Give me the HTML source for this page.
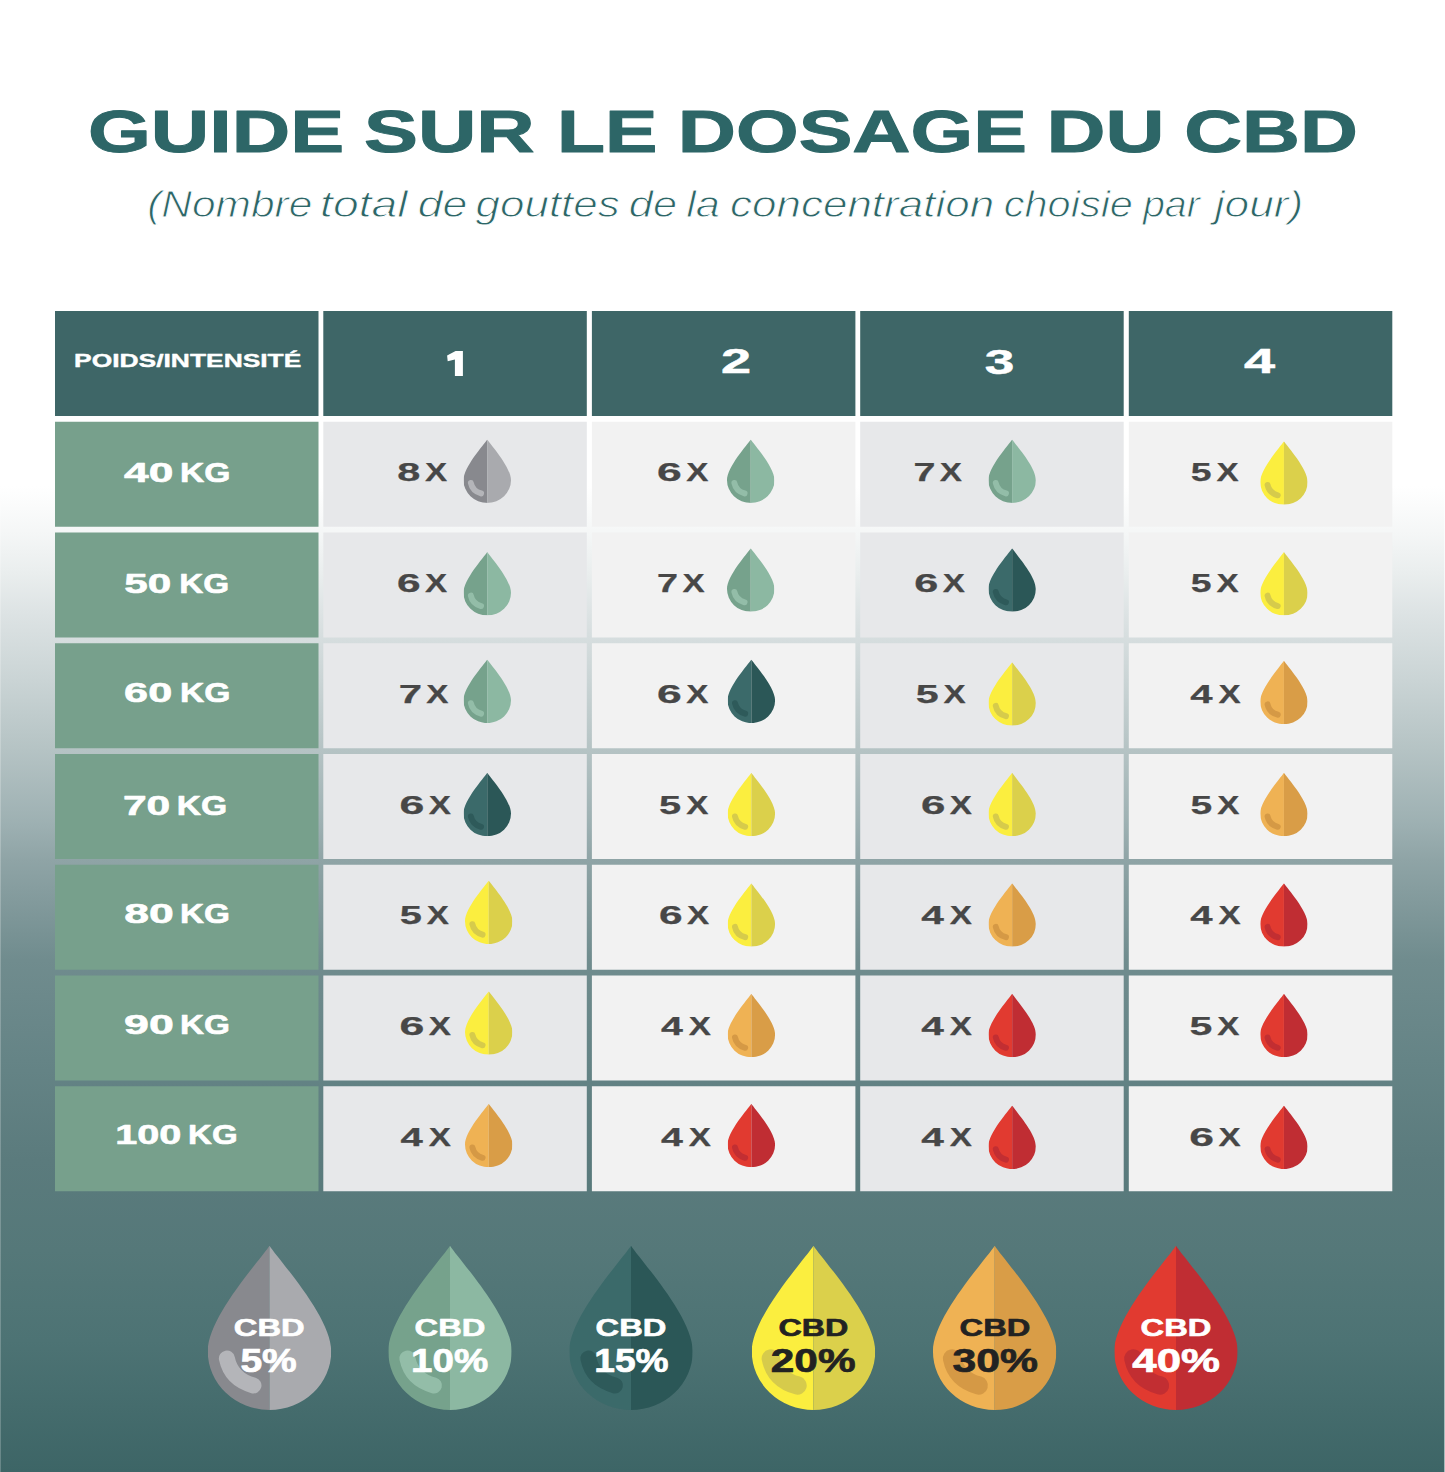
<!DOCTYPE html><html><head><meta charset="utf-8"><title>Guide sur le dosage du CBD</title><style>html,body{margin:0;padding:0;width:1445px;height:1472px;overflow:hidden;background:#fff}text{font-family:"Liberation Sans",sans-serif}</style></head><body><svg width="1445" height="1472" viewBox="0 0 1445 1472" style="display:block;font-family:'Liberation Sans',sans-serif"><defs><linearGradient id="bg" x1="0" y1="0" x2="0" y2="1"><stop offset="0.0000" stop-color="#ffffff"/><stop offset="0.3302" stop-color="#ffffff"/><stop offset="0.3607" stop-color="#f5f7f7"/><stop offset="0.3886" stop-color="#eaeeee"/><stop offset="0.4164" stop-color="#dde3e4"/><stop offset="0.4620" stop-color="#cad4d5"/><stop offset="0.5095" stop-color="#b5c3c4"/><stop offset="0.5598" stop-color="#9db0b2"/><stop offset="0.5842" stop-color="#8fa4a6"/><stop offset="0.6522" stop-color="#708c8e"/><stop offset="0.7201" stop-color="#658486"/><stop offset="0.7880" stop-color="#5b7b7d"/><stop offset="0.8492" stop-color="#557879"/><stop offset="0.9103" stop-color="#4d7374"/><stop offset="1.0000" stop-color="#3d6566"/></linearGradient></defs><rect x="0" y="0" width="1445" height="1472" fill="url(#bg)"/><rect x="1444" y="0" width="1" height="1472" fill="#ffffff" fill-opacity="0.55"/><rect x="0" y="0" width="1" height="1472" fill="#ffffff" fill-opacity="0.22"/><text stroke="#2d6667" stroke-width="1.0" stroke-linejoin="round" x="87.90" y="151.60" font-size="59.5" font-weight="bold" font-style="normal" fill="#2d6667" text-anchor="start" textLength="256.21" lengthAdjust="spacingAndGlyphs">GUIDE</text><text stroke="#2d6667" stroke-width="1.0" stroke-linejoin="round" x="364.04" y="151.60" font-size="59.5" font-weight="bold" font-style="normal" fill="#2d6667" text-anchor="start" textLength="170.59" lengthAdjust="spacingAndGlyphs">SUR</text><text stroke="#2d6667" stroke-width="1.0" stroke-linejoin="round" x="556.93" y="151.60" font-size="59.5" font-weight="bold" font-style="normal" fill="#2d6667" text-anchor="start" textLength="100.38" lengthAdjust="spacingAndGlyphs">LE</text><text stroke="#2d6667" stroke-width="1.0" stroke-linejoin="round" x="677.86" y="151.60" font-size="59.5" font-weight="bold" font-style="normal" fill="#2d6667" text-anchor="start" textLength="349.03" lengthAdjust="spacingAndGlyphs">DOSAGE</text><text stroke="#2d6667" stroke-width="1.0" stroke-linejoin="round" x="1046.60" y="151.60" font-size="59.5" font-weight="bold" font-style="normal" fill="#2d6667" text-anchor="start" textLength="117.91" lengthAdjust="spacingAndGlyphs">DU</text><text stroke="#2d6667" stroke-width="1.0" stroke-linejoin="round" x="1184.23" y="151.60" font-size="59.5" font-weight="bold" font-style="normal" fill="#2d6667" text-anchor="start" textLength="173.65" lengthAdjust="spacingAndGlyphs">CBD</text><text stroke="#ffffff" stroke-width="0.9" stroke-linejoin="round" x="147.19" y="217.00" font-size="36.3" font-weight="normal" font-style="italic" fill="#2d6667" text-anchor="start" textLength="165.12" lengthAdjust="spacingAndGlyphs">(Nombre</text><text stroke="#ffffff" stroke-width="0.9" stroke-linejoin="round" x="320.06" y="217.00" font-size="36.3" font-weight="normal" font-style="italic" fill="#2d6667" text-anchor="start" textLength="87.51" lengthAdjust="spacingAndGlyphs">total</text><text stroke="#ffffff" stroke-width="0.9" stroke-linejoin="round" x="417.66" y="217.00" font-size="36.3" font-weight="normal" font-style="italic" fill="#2d6667" text-anchor="start" textLength="49.71" lengthAdjust="spacingAndGlyphs">de</text><text stroke="#ffffff" stroke-width="0.9" stroke-linejoin="round" x="475.49" y="217.00" font-size="36.3" font-weight="normal" font-style="italic" fill="#2d6667" text-anchor="start" textLength="144.34" lengthAdjust="spacingAndGlyphs">gouttes</text><text stroke="#ffffff" stroke-width="0.9" stroke-linejoin="round" x="628.80" y="217.00" font-size="36.3" font-weight="normal" font-style="italic" fill="#2d6667" text-anchor="start" textLength="48.21" lengthAdjust="spacingAndGlyphs">de</text><text stroke="#ffffff" stroke-width="0.9" stroke-linejoin="round" x="686.21" y="217.00" font-size="36.3" font-weight="normal" font-style="italic" fill="#2d6667" text-anchor="start" textLength="33.75" lengthAdjust="spacingAndGlyphs">la</text><text stroke="#ffffff" stroke-width="0.9" stroke-linejoin="round" x="730.03" y="217.00" font-size="36.3" font-weight="normal" font-style="italic" fill="#2d6667" text-anchor="start" textLength="264.10" lengthAdjust="spacingAndGlyphs">concentration</text><text stroke="#ffffff" stroke-width="0.9" stroke-linejoin="round" x="1003.76" y="217.00" font-size="36.3" font-weight="normal" font-style="italic" fill="#2d6667" text-anchor="start" textLength="129.21" lengthAdjust="spacingAndGlyphs">choisie</text><text stroke="#ffffff" stroke-width="0.9" stroke-linejoin="round" x="1142.91" y="217.00" font-size="36.3" font-weight="normal" font-style="italic" fill="#2d6667" text-anchor="start" textLength="57.10" lengthAdjust="spacingAndGlyphs">par</text><text stroke="#ffffff" stroke-width="0.9" stroke-linejoin="round" x="1214.73" y="217.00" font-size="36.3" font-weight="normal" font-style="italic" fill="#2d6667" text-anchor="start" textLength="88.68" lengthAdjust="spacingAndGlyphs">jour)</text><rect x="55.00" y="311.00" width="263.5" height="105" fill="#3e6667"/><rect x="323.30" y="311.00" width="263.5" height="105" fill="#3e6667"/><rect x="591.90" y="311.00" width="263.5" height="105" fill="#3e6667"/><rect x="860.20" y="311.00" width="263.5" height="105" fill="#3e6667"/><rect x="1128.80" y="311.00" width="263.5" height="105" fill="#3e6667"/><text stroke="#ffffff" stroke-width="0.4" stroke-linejoin="round" x="74.10" y="367.40" font-size="18.8" font-weight="bold" font-style="normal" fill="#ffffff" text-anchor="start" textLength="227.24" lengthAdjust="spacingAndGlyphs">POIDS/INTENSITÉ</text><path d="M462.9,351 L462.9,376 L454.9,376 L454.9,359.6 L447.7,361.2 L447.1,355.4 L455.6,351 Z" fill="#ffffff"/><text stroke="#ffffff" stroke-width="0.5" stroke-linejoin="round" x="721.12" y="373.20" font-size="35.7" font-weight="bold" font-style="normal" fill="#ffffff" text-anchor="start" textLength="30.06" lengthAdjust="spacingAndGlyphs">2</text><text stroke="#ffffff" stroke-width="0.5" stroke-linejoin="round" x="984.67" y="374.00" font-size="35.7" font-weight="bold" font-style="normal" fill="#ffffff" text-anchor="start" textLength="29.55" lengthAdjust="spacingAndGlyphs">3</text><text stroke="#ffffff" stroke-width="0.5" stroke-linejoin="round" x="1244.05" y="373.20" font-size="35.7" font-weight="bold" font-style="normal" fill="#ffffff" text-anchor="start" textLength="31.06" lengthAdjust="spacingAndGlyphs">4</text><rect x="55.00" y="421.75" width="263.5" height="105" fill="#77a08c"/><rect x="323.30" y="421.75" width="263.5" height="105" fill="#e7e8ea"/><rect x="591.90" y="421.75" width="263.5" height="105" fill="#f2f2f2"/><rect x="860.20" y="421.75" width="263.5" height="105" fill="#e7e8ea"/><rect x="1128.80" y="421.75" width="263.5" height="105" fill="#f2f2f2"/><text stroke="#ffffff" stroke-width="0.6" stroke-linejoin="round" x="124.08" y="482.20" font-size="27.6" font-weight="bold" font-style="normal" fill="#ffffff" text-anchor="start" textLength="49.26" lengthAdjust="spacingAndGlyphs">40</text><text stroke="#ffffff" stroke-width="0.6" stroke-linejoin="round" x="179.93" y="482.20" font-size="27.6" font-weight="bold" font-style="normal" fill="#ffffff" text-anchor="start" textLength="50.49" lengthAdjust="spacingAndGlyphs">KG</text><text stroke="#474747" stroke-width="0.25" stroke-linejoin="round" x="397.27" y="481.45" font-size="25.8" font-weight="bold" font-style="normal" fill="#474747" text-anchor="start" textLength="23.05" lengthAdjust="spacingAndGlyphs">8</text><text stroke="#474747" stroke-width="0.25" stroke-linejoin="round" x="425.08" y="481.45" font-size="25.8" font-weight="bold" font-style="normal" fill="#474747" text-anchor="start" textLength="22.19" lengthAdjust="spacingAndGlyphs">X</text><g transform="translate(463.50,439.40) scale(0.4750,0.4739)"><clipPath id="dc1"><path d="M50,0 C43,11 0,58 0,86 A50,48 0 0 0 100,86 C100,58 57,11 50,0 Z"/></clipPath><g clip-path="url(#dc1)"><rect x="0" y="0" width="50" height="134" fill="#88898e"/><rect x="50" y="0" width="50" height="134" fill="#a9aaae"/><path d="M15.5,92 Q19,109 37,114" fill="none" stroke="#b4b5b9" stroke-width="12.5" stroke-linecap="round"/></g></g><text stroke="#474747" stroke-width="0.25" stroke-linejoin="round" x="657.03" y="481.45" font-size="25.8" font-weight="bold" font-style="normal" fill="#474747" text-anchor="start" textLength="24.74" lengthAdjust="spacingAndGlyphs">6</text><text stroke="#474747" stroke-width="0.25" stroke-linejoin="round" x="686.18" y="481.45" font-size="25.8" font-weight="bold" font-style="normal" fill="#474747" text-anchor="start" textLength="22.19" lengthAdjust="spacingAndGlyphs">X</text><g transform="translate(727.00,439.40) scale(0.4750,0.4739)"><clipPath id="dc2"><path d="M50,0 C43,11 0,58 0,86 A50,48 0 0 0 100,86 C100,58 57,11 50,0 Z"/></clipPath><g clip-path="url(#dc2)"><rect x="0" y="0" width="50" height="134" fill="#76a28c"/><rect x="50" y="0" width="50" height="134" fill="#8cb8a2"/><path d="M15.5,92 Q19,109 37,114" fill="none" stroke="#93bda8" stroke-width="12.5" stroke-linecap="round"/></g></g><text stroke="#474747" stroke-width="0.25" stroke-linejoin="round" x="913.60" y="481.45" font-size="25.8" font-weight="bold" font-style="normal" fill="#474747" text-anchor="start" textLength="21.96" lengthAdjust="spacingAndGlyphs">7</text><text stroke="#474747" stroke-width="0.25" stroke-linejoin="round" x="939.88" y="481.45" font-size="25.8" font-weight="bold" font-style="normal" fill="#474747" text-anchor="start" textLength="22.19" lengthAdjust="spacingAndGlyphs">X</text><g transform="translate(988.40,439.40) scale(0.4750,0.4739)"><clipPath id="dc3"><path d="M50,0 C43,11 0,58 0,86 A50,48 0 0 0 100,86 C100,58 57,11 50,0 Z"/></clipPath><g clip-path="url(#dc3)"><rect x="0" y="0" width="50" height="134" fill="#76a28c"/><rect x="50" y="0" width="50" height="134" fill="#8cb8a2"/><path d="M15.5,92 Q19,109 37,114" fill="none" stroke="#93bda8" stroke-width="12.5" stroke-linecap="round"/></g></g><text stroke="#474747" stroke-width="0.25" stroke-linejoin="round" x="1190.70" y="481.45" font-size="25.8" font-weight="bold" font-style="normal" fill="#474747" text-anchor="start" textLength="20.79" lengthAdjust="spacingAndGlyphs">5</text><text stroke="#474747" stroke-width="0.25" stroke-linejoin="round" x="1216.48" y="481.45" font-size="25.8" font-weight="bold" font-style="normal" fill="#474747" text-anchor="start" textLength="22.19" lengthAdjust="spacingAndGlyphs">X</text><g transform="translate(1260.20,441.30) scale(0.4750,0.4739)"><clipPath id="dc4"><path d="M50,0 C43,11 0,58 0,86 A50,48 0 0 0 100,86 C100,58 57,11 50,0 Z"/></clipPath><g clip-path="url(#dc4)"><rect x="0" y="0" width="50" height="134" fill="#fbee3f"/><rect x="50" y="0" width="50" height="134" fill="#dbd04b"/><path d="M15.5,92 Q19,109 37,114" fill="none" stroke="#d6cb4b" stroke-width="12.5" stroke-linecap="round"/></g></g><rect x="55.00" y="532.50" width="263.5" height="105" fill="#77a08c"/><rect x="323.30" y="532.50" width="263.5" height="105" fill="#e7e8ea"/><rect x="591.90" y="532.50" width="263.5" height="105" fill="#f2f2f2"/><rect x="860.20" y="532.50" width="263.5" height="105" fill="#e7e8ea"/><rect x="1128.80" y="532.50" width="263.5" height="105" fill="#f2f2f2"/><text stroke="#ffffff" stroke-width="0.6" stroke-linejoin="round" x="124.17" y="593.20" font-size="27.6" font-weight="bold" font-style="normal" fill="#ffffff" text-anchor="start" textLength="46.99" lengthAdjust="spacingAndGlyphs">50</text><text stroke="#ffffff" stroke-width="0.6" stroke-linejoin="round" x="179.15" y="593.20" font-size="27.6" font-weight="bold" font-style="normal" fill="#ffffff" text-anchor="start" textLength="49.95" lengthAdjust="spacingAndGlyphs">KG</text><text stroke="#474747" stroke-width="0.25" stroke-linejoin="round" x="397.01" y="592.20" font-size="25.8" font-weight="bold" font-style="normal" fill="#474747" text-anchor="start" textLength="23.58" lengthAdjust="spacingAndGlyphs">6</text><text stroke="#474747" stroke-width="0.25" stroke-linejoin="round" x="425.08" y="592.20" font-size="25.8" font-weight="bold" font-style="normal" fill="#474747" text-anchor="start" textLength="22.19" lengthAdjust="spacingAndGlyphs">X</text><g transform="translate(463.50,552.00) scale(0.4750,0.4739)"><clipPath id="dc5"><path d="M50,0 C43,11 0,58 0,86 A50,48 0 0 0 100,86 C100,58 57,11 50,0 Z"/></clipPath><g clip-path="url(#dc5)"><rect x="0" y="0" width="50" height="134" fill="#76a28c"/><rect x="50" y="0" width="50" height="134" fill="#8cb8a2"/><path d="M15.5,92 Q19,109 37,114" fill="none" stroke="#93bda8" stroke-width="12.5" stroke-linecap="round"/></g></g><text stroke="#474747" stroke-width="0.25" stroke-linejoin="round" x="657.07" y="592.20" font-size="25.8" font-weight="bold" font-style="normal" fill="#474747" text-anchor="start" textLength="21.01" lengthAdjust="spacingAndGlyphs">7</text><text stroke="#474747" stroke-width="0.25" stroke-linejoin="round" x="682.48" y="592.20" font-size="25.8" font-weight="bold" font-style="normal" fill="#474747" text-anchor="start" textLength="22.19" lengthAdjust="spacingAndGlyphs">X</text><g transform="translate(727.00,548.30) scale(0.4750,0.4739)"><clipPath id="dc6"><path d="M50,0 C43,11 0,58 0,86 A50,48 0 0 0 100,86 C100,58 57,11 50,0 Z"/></clipPath><g clip-path="url(#dc6)"><rect x="0" y="0" width="50" height="134" fill="#76a28c"/><rect x="50" y="0" width="50" height="134" fill="#8cb8a2"/><path d="M15.5,92 Q19,109 37,114" fill="none" stroke="#93bda8" stroke-width="12.5" stroke-linecap="round"/></g></g><text stroke="#474747" stroke-width="0.25" stroke-linejoin="round" x="914.38" y="592.20" font-size="25.8" font-weight="bold" font-style="normal" fill="#474747" text-anchor="start" textLength="24.05" lengthAdjust="spacingAndGlyphs">6</text><text stroke="#474747" stroke-width="0.25" stroke-linejoin="round" x="942.88" y="592.20" font-size="25.8" font-weight="bold" font-style="normal" fill="#474747" text-anchor="start" textLength="22.19" lengthAdjust="spacingAndGlyphs">X</text><g transform="translate(988.40,548.30) scale(0.4750,0.4739)"><clipPath id="dc7"><path d="M50,0 C43,11 0,58 0,86 A50,48 0 0 0 100,86 C100,58 57,11 50,0 Z"/></clipPath><g clip-path="url(#dc7)"><rect x="0" y="0" width="50" height="134" fill="#3b6a6a"/><rect x="50" y="0" width="50" height="134" fill="#2b5757"/><path d="M15.5,92 Q19,109 37,114" fill="none" stroke="#2e5a5a" stroke-width="12.5" stroke-linecap="round"/></g></g><text stroke="#474747" stroke-width="0.25" stroke-linejoin="round" x="1190.70" y="592.20" font-size="25.8" font-weight="bold" font-style="normal" fill="#474747" text-anchor="start" textLength="20.79" lengthAdjust="spacingAndGlyphs">5</text><text stroke="#474747" stroke-width="0.25" stroke-linejoin="round" x="1216.48" y="592.20" font-size="25.8" font-weight="bold" font-style="normal" fill="#474747" text-anchor="start" textLength="22.19" lengthAdjust="spacingAndGlyphs">X</text><g transform="translate(1260.20,552.00) scale(0.4750,0.4739)"><clipPath id="dc8"><path d="M50,0 C43,11 0,58 0,86 A50,48 0 0 0 100,86 C100,58 57,11 50,0 Z"/></clipPath><g clip-path="url(#dc8)"><rect x="0" y="0" width="50" height="134" fill="#fbee3f"/><rect x="50" y="0" width="50" height="134" fill="#dbd04b"/><path d="M15.5,92 Q19,109 37,114" fill="none" stroke="#d6cb4b" stroke-width="12.5" stroke-linecap="round"/></g></g><rect x="55.00" y="643.25" width="263.5" height="105" fill="#77a08c"/><rect x="323.30" y="643.25" width="263.5" height="105" fill="#e7e8ea"/><rect x="591.90" y="643.25" width="263.5" height="105" fill="#f2f2f2"/><rect x="860.20" y="643.25" width="263.5" height="105" fill="#e7e8ea"/><rect x="1128.80" y="643.25" width="263.5" height="105" fill="#f2f2f2"/><text stroke="#ffffff" stroke-width="0.6" stroke-linejoin="round" x="124.14" y="701.60" font-size="27.6" font-weight="bold" font-style="normal" fill="#ffffff" text-anchor="start" textLength="48.06" lengthAdjust="spacingAndGlyphs">60</text><text stroke="#ffffff" stroke-width="0.6" stroke-linejoin="round" x="179.93" y="701.60" font-size="27.6" font-weight="bold" font-style="normal" fill="#ffffff" text-anchor="start" textLength="50.49" lengthAdjust="spacingAndGlyphs">KG</text><text stroke="#474747" stroke-width="0.25" stroke-linejoin="round" x="398.70" y="702.95" font-size="25.8" font-weight="bold" font-style="normal" fill="#474747" text-anchor="start" textLength="23.26" lengthAdjust="spacingAndGlyphs">7</text><text stroke="#474747" stroke-width="0.25" stroke-linejoin="round" x="426.18" y="702.95" font-size="25.8" font-weight="bold" font-style="normal" fill="#474747" text-anchor="start" textLength="22.19" lengthAdjust="spacingAndGlyphs">X</text><g transform="translate(463.50,659.60) scale(0.4750,0.4739)"><clipPath id="dc9"><path d="M50,0 C43,11 0,58 0,86 A50,48 0 0 0 100,86 C100,58 57,11 50,0 Z"/></clipPath><g clip-path="url(#dc9)"><rect x="0" y="0" width="50" height="134" fill="#76a28c"/><rect x="50" y="0" width="50" height="134" fill="#8cb8a2"/><path d="M15.5,92 Q19,109 37,114" fill="none" stroke="#93bda8" stroke-width="12.5" stroke-linecap="round"/></g></g><text stroke="#474747" stroke-width="0.25" stroke-linejoin="round" x="657.03" y="702.95" font-size="25.8" font-weight="bold" font-style="normal" fill="#474747" text-anchor="start" textLength="24.74" lengthAdjust="spacingAndGlyphs">6</text><text stroke="#474747" stroke-width="0.25" stroke-linejoin="round" x="686.18" y="702.95" font-size="25.8" font-weight="bold" font-style="normal" fill="#474747" text-anchor="start" textLength="22.19" lengthAdjust="spacingAndGlyphs">X</text><g transform="translate(727.60,659.60) scale(0.4750,0.4739)"><clipPath id="dc10"><path d="M50,0 C43,11 0,58 0,86 A50,48 0 0 0 100,86 C100,58 57,11 50,0 Z"/></clipPath><g clip-path="url(#dc10)"><rect x="0" y="0" width="50" height="134" fill="#3b6a6a"/><rect x="50" y="0" width="50" height="134" fill="#2b5757"/><path d="M15.5,92 Q19,109 37,114" fill="none" stroke="#2e5a5a" stroke-width="12.5" stroke-linecap="round"/></g></g><text stroke="#474747" stroke-width="0.25" stroke-linejoin="round" x="915.77" y="702.95" font-size="25.8" font-weight="bold" font-style="normal" fill="#474747" text-anchor="start" textLength="22.94" lengthAdjust="spacingAndGlyphs">5</text><text stroke="#474747" stroke-width="0.25" stroke-linejoin="round" x="943.58" y="702.95" font-size="25.8" font-weight="bold" font-style="normal" fill="#474747" text-anchor="start" textLength="22.19" lengthAdjust="spacingAndGlyphs">X</text><g transform="translate(988.40,662.20) scale(0.4750,0.4739)"><clipPath id="dc11"><path d="M50,0 C43,11 0,58 0,86 A50,48 0 0 0 100,86 C100,58 57,11 50,0 Z"/></clipPath><g clip-path="url(#dc11)"><rect x="0" y="0" width="50" height="134" fill="#fbee3f"/><rect x="50" y="0" width="50" height="134" fill="#dbd04b"/><path d="M15.5,92 Q19,109 37,114" fill="none" stroke="#d6cb4b" stroke-width="12.5" stroke-linecap="round"/></g></g><text stroke="#474747" stroke-width="0.25" stroke-linejoin="round" x="1190.29" y="702.95" font-size="25.8" font-weight="bold" font-style="normal" fill="#474747" text-anchor="start" textLength="22.34" lengthAdjust="spacingAndGlyphs">4</text><text stroke="#474747" stroke-width="0.25" stroke-linejoin="round" x="1218.48" y="702.95" font-size="25.8" font-weight="bold" font-style="normal" fill="#474747" text-anchor="start" textLength="22.19" lengthAdjust="spacingAndGlyphs">X</text><g transform="translate(1260.20,660.70) scale(0.4750,0.4739)"><clipPath id="dc12"><path d="M50,0 C43,11 0,58 0,86 A50,48 0 0 0 100,86 C100,58 57,11 50,0 Z"/></clipPath><g clip-path="url(#dc12)"><rect x="0" y="0" width="50" height="134" fill="#efb254"/><rect x="50" y="0" width="50" height="134" fill="#d99d47"/><path d="M15.5,92 Q19,109 37,114" fill="none" stroke="#d59945" stroke-width="12.5" stroke-linecap="round"/></g></g><rect x="55.00" y="754.00" width="263.5" height="105" fill="#77a08c"/><rect x="323.30" y="754.00" width="263.5" height="105" fill="#e7e8ea"/><rect x="591.90" y="754.00" width="263.5" height="105" fill="#f2f2f2"/><rect x="860.20" y="754.00" width="263.5" height="105" fill="#e7e8ea"/><rect x="1128.80" y="754.00" width="263.5" height="105" fill="#f2f2f2"/><text stroke="#ffffff" stroke-width="0.6" stroke-linejoin="round" x="122.92" y="814.70" font-size="27.6" font-weight="bold" font-style="normal" fill="#ffffff" text-anchor="start" textLength="47.35" lengthAdjust="spacingAndGlyphs">70</text><text stroke="#ffffff" stroke-width="0.6" stroke-linejoin="round" x="176.73" y="814.70" font-size="27.6" font-weight="bold" font-style="normal" fill="#ffffff" text-anchor="start" textLength="50.49" lengthAdjust="spacingAndGlyphs">KG</text><text stroke="#474747" stroke-width="0.25" stroke-linejoin="round" x="399.52" y="813.70" font-size="25.8" font-weight="bold" font-style="normal" fill="#474747" text-anchor="start" textLength="24.86" lengthAdjust="spacingAndGlyphs">6</text><text stroke="#474747" stroke-width="0.25" stroke-linejoin="round" x="428.78" y="813.70" font-size="25.8" font-weight="bold" font-style="normal" fill="#474747" text-anchor="start" textLength="22.19" lengthAdjust="spacingAndGlyphs">X</text><g transform="translate(463.50,772.80) scale(0.4750,0.4739)"><clipPath id="dc13"><path d="M50,0 C43,11 0,58 0,86 A50,48 0 0 0 100,86 C100,58 57,11 50,0 Z"/></clipPath><g clip-path="url(#dc13)"><rect x="0" y="0" width="50" height="134" fill="#3b6a6a"/><rect x="50" y="0" width="50" height="134" fill="#2b5757"/><path d="M15.5,92 Q19,109 37,114" fill="none" stroke="#2e5a5a" stroke-width="12.5" stroke-linecap="round"/></g></g><text stroke="#474747" stroke-width="0.25" stroke-linejoin="round" x="659.12" y="813.70" font-size="25.8" font-weight="bold" font-style="normal" fill="#474747" text-anchor="start" textLength="22.15" lengthAdjust="spacingAndGlyphs">5</text><text stroke="#474747" stroke-width="0.25" stroke-linejoin="round" x="686.18" y="813.70" font-size="25.8" font-weight="bold" font-style="normal" fill="#474747" text-anchor="start" textLength="22.19" lengthAdjust="spacingAndGlyphs">X</text><g transform="translate(727.60,772.80) scale(0.4750,0.4739)"><clipPath id="dc14"><path d="M50,0 C43,11 0,58 0,86 A50,48 0 0 0 100,86 C100,58 57,11 50,0 Z"/></clipPath><g clip-path="url(#dc14)"><rect x="0" y="0" width="50" height="134" fill="#fbee3f"/><rect x="50" y="0" width="50" height="134" fill="#dbd04b"/><path d="M15.5,92 Q19,109 37,114" fill="none" stroke="#d6cb4b" stroke-width="12.5" stroke-linecap="round"/></g></g><text stroke="#474747" stroke-width="0.25" stroke-linejoin="round" x="921.05" y="813.70" font-size="25.8" font-weight="bold" font-style="normal" fill="#474747" text-anchor="start" textLength="24.39" lengthAdjust="spacingAndGlyphs">6</text><text stroke="#474747" stroke-width="0.25" stroke-linejoin="round" x="949.88" y="813.70" font-size="25.8" font-weight="bold" font-style="normal" fill="#474747" text-anchor="start" textLength="22.19" lengthAdjust="spacingAndGlyphs">X</text><g transform="translate(988.40,772.80) scale(0.4750,0.4739)"><clipPath id="dc15"><path d="M50,0 C43,11 0,58 0,86 A50,48 0 0 0 100,86 C100,58 57,11 50,0 Z"/></clipPath><g clip-path="url(#dc15)"><rect x="0" y="0" width="50" height="134" fill="#fbee3f"/><rect x="50" y="0" width="50" height="134" fill="#dbd04b"/><path d="M15.5,92 Q19,109 37,114" fill="none" stroke="#d6cb4b" stroke-width="12.5" stroke-linecap="round"/></g></g><text stroke="#474747" stroke-width="0.25" stroke-linejoin="round" x="1190.64" y="813.70" font-size="25.8" font-weight="bold" font-style="normal" fill="#474747" text-anchor="start" textLength="21.69" lengthAdjust="spacingAndGlyphs">5</text><text stroke="#474747" stroke-width="0.25" stroke-linejoin="round" x="1217.28" y="813.70" font-size="25.8" font-weight="bold" font-style="normal" fill="#474747" text-anchor="start" textLength="22.19" lengthAdjust="spacingAndGlyphs">X</text><g transform="translate(1260.20,772.80) scale(0.4750,0.4739)"><clipPath id="dc16"><path d="M50,0 C43,11 0,58 0,86 A50,48 0 0 0 100,86 C100,58 57,11 50,0 Z"/></clipPath><g clip-path="url(#dc16)"><rect x="0" y="0" width="50" height="134" fill="#efb254"/><rect x="50" y="0" width="50" height="134" fill="#d99d47"/><path d="M15.5,92 Q19,109 37,114" fill="none" stroke="#d59945" stroke-width="12.5" stroke-linecap="round"/></g></g><rect x="55.00" y="864.75" width="263.5" height="105" fill="#77a08c"/><rect x="323.30" y="864.75" width="263.5" height="105" fill="#e7e8ea"/><rect x="591.90" y="864.75" width="263.5" height="105" fill="#f2f2f2"/><rect x="860.20" y="864.75" width="263.5" height="105" fill="#e7e8ea"/><rect x="1128.80" y="864.75" width="263.5" height="105" fill="#f2f2f2"/><text stroke="#ffffff" stroke-width="0.6" stroke-linejoin="round" x="124.21" y="922.80" font-size="27.6" font-weight="bold" font-style="normal" fill="#ffffff" text-anchor="start" textLength="49.54" lengthAdjust="spacingAndGlyphs">80</text><text stroke="#ffffff" stroke-width="0.6" stroke-linejoin="round" x="179.95" y="922.80" font-size="27.6" font-weight="bold" font-style="normal" fill="#ffffff" text-anchor="start" textLength="49.95" lengthAdjust="spacingAndGlyphs">KG</text><text stroke="#474747" stroke-width="0.25" stroke-linejoin="round" x="399.82" y="924.45" font-size="25.8" font-weight="bold" font-style="normal" fill="#474747" text-anchor="start" textLength="22.15" lengthAdjust="spacingAndGlyphs">5</text><text stroke="#474747" stroke-width="0.25" stroke-linejoin="round" x="426.88" y="924.45" font-size="25.8" font-weight="bold" font-style="normal" fill="#474747" text-anchor="start" textLength="22.19" lengthAdjust="spacingAndGlyphs">X</text><g transform="translate(465.00,880.60) scale(0.4750,0.4739)"><clipPath id="dc17"><path d="M50,0 C43,11 0,58 0,86 A50,48 0 0 0 100,86 C100,58 57,11 50,0 Z"/></clipPath><g clip-path="url(#dc17)"><rect x="0" y="0" width="50" height="134" fill="#fbee3f"/><rect x="50" y="0" width="50" height="134" fill="#dbd04b"/><path d="M15.5,92 Q19,109 37,114" fill="none" stroke="#d6cb4b" stroke-width="12.5" stroke-linecap="round"/></g></g><text stroke="#474747" stroke-width="0.25" stroke-linejoin="round" x="658.91" y="924.45" font-size="25.8" font-weight="bold" font-style="normal" fill="#474747" text-anchor="start" textLength="23.58" lengthAdjust="spacingAndGlyphs">6</text><text stroke="#474747" stroke-width="0.25" stroke-linejoin="round" x="686.98" y="924.45" font-size="25.8" font-weight="bold" font-style="normal" fill="#474747" text-anchor="start" textLength="22.19" lengthAdjust="spacingAndGlyphs">X</text><g transform="translate(727.60,883.20) scale(0.4750,0.4739)"><clipPath id="dc18"><path d="M50,0 C43,11 0,58 0,86 A50,48 0 0 0 100,86 C100,58 57,11 50,0 Z"/></clipPath><g clip-path="url(#dc18)"><rect x="0" y="0" width="50" height="134" fill="#fbee3f"/><rect x="50" y="0" width="50" height="134" fill="#dbd04b"/><path d="M15.5,92 Q19,109 37,114" fill="none" stroke="#d6cb4b" stroke-width="12.5" stroke-linecap="round"/></g></g><text stroke="#474747" stroke-width="0.25" stroke-linejoin="round" x="921.38" y="924.45" font-size="25.8" font-weight="bold" font-style="normal" fill="#474747" text-anchor="start" textLength="22.65" lengthAdjust="spacingAndGlyphs">4</text><text stroke="#474747" stroke-width="0.25" stroke-linejoin="round" x="949.88" y="924.45" font-size="25.8" font-weight="bold" font-style="normal" fill="#474747" text-anchor="start" textLength="22.19" lengthAdjust="spacingAndGlyphs">X</text><g transform="translate(988.40,883.20) scale(0.4750,0.4739)"><clipPath id="dc19"><path d="M50,0 C43,11 0,58 0,86 A50,48 0 0 0 100,86 C100,58 57,11 50,0 Z"/></clipPath><g clip-path="url(#dc19)"><rect x="0" y="0" width="50" height="134" fill="#efb254"/><rect x="50" y="0" width="50" height="134" fill="#d99d47"/><path d="M15.5,92 Q19,109 37,114" fill="none" stroke="#d59945" stroke-width="12.5" stroke-linecap="round"/></g></g><text stroke="#474747" stroke-width="0.25" stroke-linejoin="round" x="1190.29" y="924.45" font-size="25.8" font-weight="bold" font-style="normal" fill="#474747" text-anchor="start" textLength="22.34" lengthAdjust="spacingAndGlyphs">4</text><text stroke="#474747" stroke-width="0.25" stroke-linejoin="round" x="1218.48" y="924.45" font-size="25.8" font-weight="bold" font-style="normal" fill="#474747" text-anchor="start" textLength="22.19" lengthAdjust="spacingAndGlyphs">X</text><g transform="translate(1260.20,883.20) scale(0.4750,0.4739)"><clipPath id="dc20"><path d="M50,0 C43,11 0,58 0,86 A50,48 0 0 0 100,86 C100,58 57,11 50,0 Z"/></clipPath><g clip-path="url(#dc20)"><rect x="0" y="0" width="50" height="134" fill="#e13a30"/><rect x="50" y="0" width="50" height="134" fill="#c02d33"/><path d="M15.5,92 Q19,109 37,114" fill="none" stroke="#c22e32" stroke-width="12.5" stroke-linecap="round"/></g></g><rect x="55.00" y="975.50" width="263.5" height="105" fill="#77a08c"/><rect x="323.30" y="975.50" width="263.5" height="105" fill="#e7e8ea"/><rect x="591.90" y="975.50" width="263.5" height="105" fill="#f2f2f2"/><rect x="860.20" y="975.50" width="263.5" height="105" fill="#e7e8ea"/><rect x="1128.80" y="975.50" width="263.5" height="105" fill="#f2f2f2"/><text stroke="#ffffff" stroke-width="0.6" stroke-linejoin="round" x="124.09" y="1033.50" font-size="27.6" font-weight="bold" font-style="normal" fill="#ffffff" text-anchor="start" textLength="49.68" lengthAdjust="spacingAndGlyphs">90</text><text stroke="#ffffff" stroke-width="0.6" stroke-linejoin="round" x="179.95" y="1033.50" font-size="27.6" font-weight="bold" font-style="normal" fill="#ffffff" text-anchor="start" textLength="49.95" lengthAdjust="spacingAndGlyphs">KG</text><text stroke="#474747" stroke-width="0.25" stroke-linejoin="round" x="399.52" y="1035.20" font-size="25.8" font-weight="bold" font-style="normal" fill="#474747" text-anchor="start" textLength="24.86" lengthAdjust="spacingAndGlyphs">6</text><text stroke="#474747" stroke-width="0.25" stroke-linejoin="round" x="428.78" y="1035.20" font-size="25.8" font-weight="bold" font-style="normal" fill="#474747" text-anchor="start" textLength="22.19" lengthAdjust="spacingAndGlyphs">X</text><g transform="translate(465.00,991.30) scale(0.4750,0.4739)"><clipPath id="dc21"><path d="M50,0 C43,11 0,58 0,86 A50,48 0 0 0 100,86 C100,58 57,11 50,0 Z"/></clipPath><g clip-path="url(#dc21)"><rect x="0" y="0" width="50" height="134" fill="#fbee3f"/><rect x="50" y="0" width="50" height="134" fill="#dbd04b"/><path d="M15.5,92 Q19,109 37,114" fill="none" stroke="#d6cb4b" stroke-width="12.5" stroke-linecap="round"/></g></g><text stroke="#474747" stroke-width="0.25" stroke-linejoin="round" x="661.00" y="1035.20" font-size="25.8" font-weight="bold" font-style="normal" fill="#474747" text-anchor="start" textLength="21.92" lengthAdjust="spacingAndGlyphs">4</text><text stroke="#474747" stroke-width="0.25" stroke-linejoin="round" x="688.78" y="1035.20" font-size="25.8" font-weight="bold" font-style="normal" fill="#474747" text-anchor="start" textLength="22.19" lengthAdjust="spacingAndGlyphs">X</text><g transform="translate(727.60,993.80) scale(0.4750,0.4739)"><clipPath id="dc22"><path d="M50,0 C43,11 0,58 0,86 A50,48 0 0 0 100,86 C100,58 57,11 50,0 Z"/></clipPath><g clip-path="url(#dc22)"><rect x="0" y="0" width="50" height="134" fill="#efb254"/><rect x="50" y="0" width="50" height="134" fill="#d99d47"/><path d="M15.5,92 Q19,109 37,114" fill="none" stroke="#d59945" stroke-width="12.5" stroke-linecap="round"/></g></g><text stroke="#474747" stroke-width="0.25" stroke-linejoin="round" x="921.38" y="1035.20" font-size="25.8" font-weight="bold" font-style="normal" fill="#474747" text-anchor="start" textLength="22.65" lengthAdjust="spacingAndGlyphs">4</text><text stroke="#474747" stroke-width="0.25" stroke-linejoin="round" x="949.88" y="1035.20" font-size="25.8" font-weight="bold" font-style="normal" fill="#474747" text-anchor="start" textLength="22.19" lengthAdjust="spacingAndGlyphs">X</text><g transform="translate(988.40,993.80) scale(0.4750,0.4739)"><clipPath id="dc23"><path d="M50,0 C43,11 0,58 0,86 A50,48 0 0 0 100,86 C100,58 57,11 50,0 Z"/></clipPath><g clip-path="url(#dc23)"><rect x="0" y="0" width="50" height="134" fill="#e13a30"/><rect x="50" y="0" width="50" height="134" fill="#c02d33"/><path d="M15.5,92 Q19,109 37,114" fill="none" stroke="#c22e32" stroke-width="12.5" stroke-linecap="round"/></g></g><text stroke="#474747" stroke-width="0.25" stroke-linejoin="round" x="1189.57" y="1035.20" font-size="25.8" font-weight="bold" font-style="normal" fill="#474747" text-anchor="start" textLength="22.82" lengthAdjust="spacingAndGlyphs">5</text><text stroke="#474747" stroke-width="0.25" stroke-linejoin="round" x="1217.28" y="1035.20" font-size="25.8" font-weight="bold" font-style="normal" fill="#474747" text-anchor="start" textLength="22.19" lengthAdjust="spacingAndGlyphs">X</text><g transform="translate(1260.20,993.80) scale(0.4750,0.4739)"><clipPath id="dc24"><path d="M50,0 C43,11 0,58 0,86 A50,48 0 0 0 100,86 C100,58 57,11 50,0 Z"/></clipPath><g clip-path="url(#dc24)"><rect x="0" y="0" width="50" height="134" fill="#e13a30"/><rect x="50" y="0" width="50" height="134" fill="#c02d33"/><path d="M15.5,92 Q19,109 37,114" fill="none" stroke="#c22e32" stroke-width="12.5" stroke-linecap="round"/></g></g><rect x="55.00" y="1086.25" width="263.5" height="105" fill="#77a08c"/><rect x="323.30" y="1086.25" width="263.5" height="105" fill="#e7e8ea"/><rect x="591.90" y="1086.25" width="263.5" height="105" fill="#f2f2f2"/><rect x="860.20" y="1086.25" width="263.5" height="105" fill="#e7e8ea"/><rect x="1128.80" y="1086.25" width="263.5" height="105" fill="#f2f2f2"/><text stroke="#ffffff" stroke-width="0.6" stroke-linejoin="round" x="115.22" y="1144.00" font-size="27.6" font-weight="bold" font-style="normal" fill="#ffffff" text-anchor="start" textLength="66.13" lengthAdjust="spacingAndGlyphs">100</text><text stroke="#ffffff" stroke-width="0.6" stroke-linejoin="round" x="188.07" y="1144.00" font-size="27.6" font-weight="bold" font-style="normal" fill="#ffffff" text-anchor="start" textLength="49.62" lengthAdjust="spacingAndGlyphs">KG</text><text stroke="#474747" stroke-width="0.25" stroke-linejoin="round" x="400.59" y="1145.95" font-size="25.8" font-weight="bold" font-style="normal" fill="#474747" text-anchor="start" textLength="22.34" lengthAdjust="spacingAndGlyphs">4</text><text stroke="#474747" stroke-width="0.25" stroke-linejoin="round" x="428.78" y="1145.95" font-size="25.8" font-weight="bold" font-style="normal" fill="#474747" text-anchor="start" textLength="22.19" lengthAdjust="spacingAndGlyphs">X</text><g transform="translate(465.00,1103.80) scale(0.4750,0.4739)"><clipPath id="dc25"><path d="M50,0 C43,11 0,58 0,86 A50,48 0 0 0 100,86 C100,58 57,11 50,0 Z"/></clipPath><g clip-path="url(#dc25)"><rect x="0" y="0" width="50" height="134" fill="#efb254"/><rect x="50" y="0" width="50" height="134" fill="#d99d47"/><path d="M15.5,92 Q19,109 37,114" fill="none" stroke="#d59945" stroke-width="12.5" stroke-linecap="round"/></g></g><text stroke="#474747" stroke-width="0.25" stroke-linejoin="round" x="661.00" y="1145.95" font-size="25.8" font-weight="bold" font-style="normal" fill="#474747" text-anchor="start" textLength="21.92" lengthAdjust="spacingAndGlyphs">4</text><text stroke="#474747" stroke-width="0.25" stroke-linejoin="round" x="688.78" y="1145.95" font-size="25.8" font-weight="bold" font-style="normal" fill="#474747" text-anchor="start" textLength="22.19" lengthAdjust="spacingAndGlyphs">X</text><g transform="translate(727.60,1103.80) scale(0.4750,0.4739)"><clipPath id="dc26"><path d="M50,0 C43,11 0,58 0,86 A50,48 0 0 0 100,86 C100,58 57,11 50,0 Z"/></clipPath><g clip-path="url(#dc26)"><rect x="0" y="0" width="50" height="134" fill="#e13a30"/><rect x="50" y="0" width="50" height="134" fill="#c02d33"/><path d="M15.5,92 Q19,109 37,114" fill="none" stroke="#c22e32" stroke-width="12.5" stroke-linecap="round"/></g></g><text stroke="#474747" stroke-width="0.25" stroke-linejoin="round" x="921.38" y="1145.95" font-size="25.8" font-weight="bold" font-style="normal" fill="#474747" text-anchor="start" textLength="22.65" lengthAdjust="spacingAndGlyphs">4</text><text stroke="#474747" stroke-width="0.25" stroke-linejoin="round" x="949.88" y="1145.95" font-size="25.8" font-weight="bold" font-style="normal" fill="#474747" text-anchor="start" textLength="22.19" lengthAdjust="spacingAndGlyphs">X</text><g transform="translate(988.40,1105.60) scale(0.4750,0.4739)"><clipPath id="dc27"><path d="M50,0 C43,11 0,58 0,86 A50,48 0 0 0 100,86 C100,58 57,11 50,0 Z"/></clipPath><g clip-path="url(#dc27)"><rect x="0" y="0" width="50" height="134" fill="#e13a30"/><rect x="50" y="0" width="50" height="134" fill="#c02d33"/><path d="M15.5,92 Q19,109 37,114" fill="none" stroke="#c22e32" stroke-width="12.5" stroke-linecap="round"/></g></g><text stroke="#474747" stroke-width="0.25" stroke-linejoin="round" x="1189.33" y="1145.95" font-size="25.8" font-weight="bold" font-style="normal" fill="#474747" text-anchor="start" textLength="24.74" lengthAdjust="spacingAndGlyphs">6</text><text stroke="#474747" stroke-width="0.25" stroke-linejoin="round" x="1218.48" y="1145.95" font-size="25.8" font-weight="bold" font-style="normal" fill="#474747" text-anchor="start" textLength="22.19" lengthAdjust="spacingAndGlyphs">X</text><g transform="translate(1260.20,1105.60) scale(0.4750,0.4739)"><clipPath id="dc28"><path d="M50,0 C43,11 0,58 0,86 A50,48 0 0 0 100,86 C100,58 57,11 50,0 Z"/></clipPath><g clip-path="url(#dc28)"><rect x="0" y="0" width="50" height="134" fill="#e13a30"/><rect x="50" y="0" width="50" height="134" fill="#c02d33"/><path d="M15.5,92 Q19,109 37,114" fill="none" stroke="#c22e32" stroke-width="12.5" stroke-linecap="round"/></g></g><g transform="translate(207.75,1245.70) scale(1.2350,1.2261)"><clipPath id="dc29"><path d="M50,0 C43,11 0,58 0,86 A50,48 0 0 0 100,86 C100,58 57,11 50,0 Z"/></clipPath><g clip-path="url(#dc29)"><rect x="0" y="0" width="50" height="134" fill="#88898e"/><rect x="50" y="0" width="50" height="134" fill="#a9aaae"/><path d="M15.5,92 Q19,109 37,114" fill="none" stroke="#b4b5b9" stroke-width="13" stroke-linecap="round"/></g></g><text stroke="#ffffff" stroke-width="0.6" stroke-linejoin="round" x="233.88" y="1335.80" font-size="23.3" font-weight="bold" font-style="normal" fill="#ffffff" text-anchor="start" textLength="70.83" lengthAdjust="spacingAndGlyphs">CBD</text><text stroke="#ffffff" stroke-width="0.7" stroke-linejoin="round" x="240.43" y="1372.00" font-size="33.4" font-weight="bold" font-style="normal" fill="#ffffff" text-anchor="start" textLength="56.35" lengthAdjust="spacingAndGlyphs">5%</text><g transform="translate(388.25,1245.70) scale(1.2350,1.2261)"><clipPath id="dc30"><path d="M50,0 C43,11 0,58 0,86 A50,48 0 0 0 100,86 C100,58 57,11 50,0 Z"/></clipPath><g clip-path="url(#dc30)"><rect x="0" y="0" width="50" height="134" fill="#76a28c"/><rect x="50" y="0" width="50" height="134" fill="#8cb8a2"/><path d="M15.5,92 Q19,109 37,114" fill="none" stroke="#93bda8" stroke-width="13" stroke-linecap="round"/></g></g><text stroke="#ffffff" stroke-width="0.6" stroke-linejoin="round" x="414.58" y="1335.80" font-size="23.3" font-weight="bold" font-style="normal" fill="#ffffff" text-anchor="start" textLength="70.83" lengthAdjust="spacingAndGlyphs">CBD</text><text stroke="#ffffff" stroke-width="0.7" stroke-linejoin="round" x="411.10" y="1372.00" font-size="33.4" font-weight="bold" font-style="normal" fill="#ffffff" text-anchor="start" textLength="77.07" lengthAdjust="spacingAndGlyphs">10%</text><g transform="translate(569.25,1245.70) scale(1.2350,1.2261)"><clipPath id="dc31"><path d="M50,0 C43,11 0,58 0,86 A50,48 0 0 0 100,86 C100,58 57,11 50,0 Z"/></clipPath><g clip-path="url(#dc31)"><rect x="0" y="0" width="50" height="134" fill="#3b6a6a"/><rect x="50" y="0" width="50" height="134" fill="#2b5757"/><path d="M15.5,92 Q19,109 37,114" fill="none" stroke="#2e5a5a" stroke-width="13" stroke-linecap="round"/></g></g><text stroke="#ffffff" stroke-width="0.6" stroke-linejoin="round" x="595.58" y="1335.80" font-size="23.3" font-weight="bold" font-style="normal" fill="#ffffff" text-anchor="start" textLength="70.83" lengthAdjust="spacingAndGlyphs">CBD</text><text stroke="#ffffff" stroke-width="0.7" stroke-linejoin="round" x="594.28" y="1372.00" font-size="33.4" font-weight="bold" font-style="normal" fill="#ffffff" text-anchor="start" textLength="74.35" lengthAdjust="spacingAndGlyphs">15%</text><g transform="translate(751.75,1245.70) scale(1.2350,1.2261)"><clipPath id="dc32"><path d="M50,0 C43,11 0,58 0,86 A50,48 0 0 0 100,86 C100,58 57,11 50,0 Z"/></clipPath><g clip-path="url(#dc32)"><rect x="0" y="0" width="50" height="134" fill="#fbee3f"/><rect x="50" y="0" width="50" height="134" fill="#dbd04b"/><path d="M15.5,92 Q19,109 37,114" fill="none" stroke="#d6cb4b" stroke-width="15" stroke-linecap="round"/></g></g><text stroke="#222222" stroke-width="0.6" stroke-linejoin="round" x="778.40" y="1335.80" font-size="23.3" font-weight="bold" font-style="normal" fill="#222222" text-anchor="start" textLength="70.00" lengthAdjust="spacingAndGlyphs">CBD</text><text stroke="#222222" stroke-width="0.7" stroke-linejoin="round" x="770.82" y="1372.00" font-size="33.4" font-weight="bold" font-style="normal" fill="#222222" text-anchor="start" textLength="84.74" lengthAdjust="spacingAndGlyphs">20%</text><g transform="translate(932.95,1245.70) scale(1.2350,1.2261)"><clipPath id="dc33"><path d="M50,0 C43,11 0,58 0,86 A50,48 0 0 0 100,86 C100,58 57,11 50,0 Z"/></clipPath><g clip-path="url(#dc33)"><rect x="0" y="0" width="50" height="134" fill="#efb254"/><rect x="50" y="0" width="50" height="134" fill="#d99d47"/><path d="M15.5,92 Q19,109 37,114" fill="none" stroke="#d59945" stroke-width="15" stroke-linecap="round"/></g></g><text stroke="#222222" stroke-width="0.6" stroke-linejoin="round" x="959.58" y="1335.80" font-size="23.3" font-weight="bold" font-style="normal" fill="#222222" text-anchor="start" textLength="70.83" lengthAdjust="spacingAndGlyphs">CBD</text><text stroke="#222222" stroke-width="0.7" stroke-linejoin="round" x="952.53" y="1372.00" font-size="33.4" font-weight="bold" font-style="normal" fill="#222222" text-anchor="start" textLength="85.44" lengthAdjust="spacingAndGlyphs">30%</text><g transform="translate(1114.25,1245.70) scale(1.2350,1.2261)"><clipPath id="dc34"><path d="M50,0 C43,11 0,58 0,86 A50,48 0 0 0 100,86 C100,58 57,11 50,0 Z"/></clipPath><g clip-path="url(#dc34)"><rect x="0" y="0" width="50" height="134" fill="#e13a30"/><rect x="50" y="0" width="50" height="134" fill="#c02d33"/><path d="M15.5,92 Q19,109 37,114" fill="none" stroke="#c22e32" stroke-width="15" stroke-linecap="round"/></g></g><text stroke="#ffffff" stroke-width="0.6" stroke-linejoin="round" x="1140.58" y="1335.80" font-size="23.3" font-weight="bold" font-style="normal" fill="#ffffff" text-anchor="start" textLength="70.83" lengthAdjust="spacingAndGlyphs">CBD</text><text stroke="#ffffff" stroke-width="0.7" stroke-linejoin="round" x="1132.34" y="1372.00" font-size="33.4" font-weight="bold" font-style="normal" fill="#ffffff" text-anchor="start" textLength="87.65" lengthAdjust="spacingAndGlyphs">40%</text></svg></body></html>
